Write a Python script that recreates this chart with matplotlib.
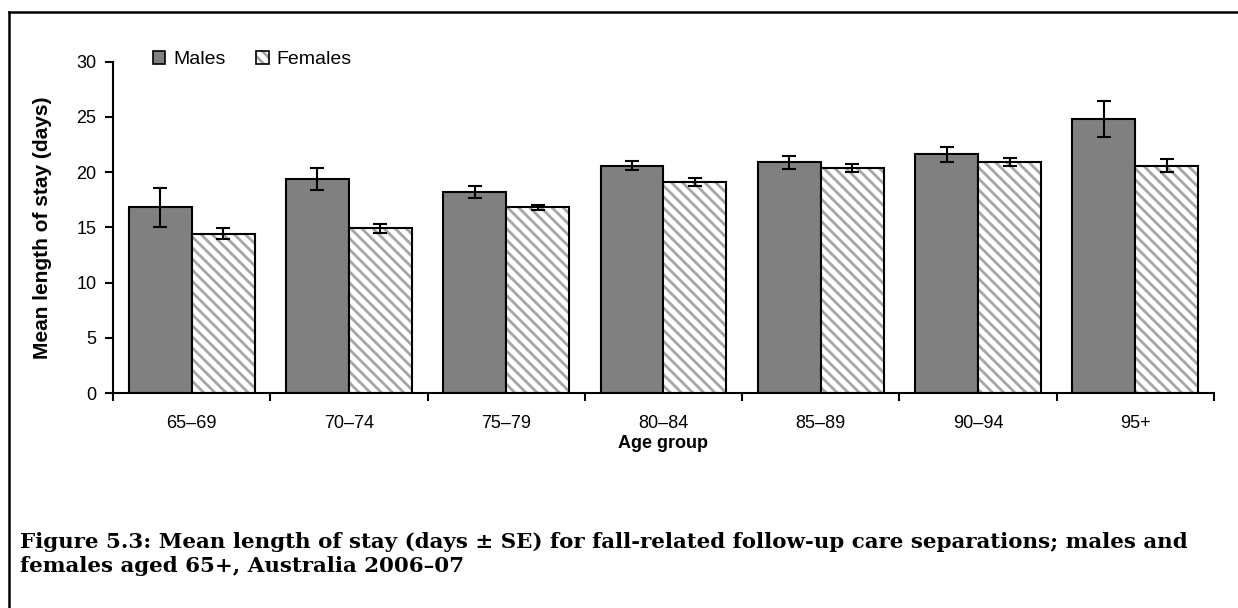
import numpy as np
import matplotlib
matplotlib.use("Agg")
import matplotlib.pyplot as plt
from matplotlib.lines import Line2D
from matplotlib.patches import Patch

# -------- DATA --------
age_groups = ["65–69", "70–74", "75–79", "80–84", "85–89", "90–94", "95+"]
males = [16.8, 19.4, 18.2, 20.6, 20.9, 21.6, 24.8]
males_se = [1.8, 1.0, 0.5, 0.4, 0.6, 0.7, 1.6]
females = [14.4, 14.9, 16.8, 19.1, 20.4, 20.9, 20.6]
females_se = [0.5, 0.4, 0.25, 0.35, 0.35, 0.35, 0.55]

caption = ("Figure 5.3: Mean length of stay (days ± SE) for fall-related follow-up care separations; males and\n"
           "females aged 65+, Australia 2006–07")

# -------- STYLE --------
plt.rcParams['font.family'] = ['Liberation Sans', 'DejaVu Sans']
plt.rcParams['hatch.linewidth'] = 2.0
male_col = "#808080"
hatch_col = "#a6a6a6"
stripes = "\\\\\\"

fig = plt.figure(figsize=(12.38, 6.08), dpi=100)
ax = fig.add_axes([113 / 1238, 1 - 393 / 608, (1214 - 113) / 1238, (393 - 61.7) / 608])

x = np.arange(len(age_groups))
w = 0.4

# males: solid grey
ax.bar(x - w / 2, males, w, color=male_col, edgecolor="black", linewidth=1.5, zorder=2)
# females: hatch layer then black outline on top
ax.bar(x + w / 2, females, w, color="white", edgecolor=hatch_col, hatch=stripes, linewidth=0, zorder=2)
ax.bar(x + w / 2, females, w, fill=False, edgecolor="black", linewidth=1.5, zorder=3)

err_kw = dict(fmt="none", ecolor="black", elinewidth=1.5, capsize=5, capthick=1.5, zorder=4)
ax.errorbar(x - w / 2, males, yerr=males_se, **err_kw)
ax.errorbar(x + w / 2, females, yerr=females_se, **err_kw)

# -------- AXES --------
ax.set_xlim(-0.5, len(age_groups) - 0.5)
ax.set_ylim(0, 30)
ax.set_yticks(range(0, 31, 5))
ax.set_xticks(x)
ax.set_xticklabels(age_groups)
ax.set_xticks(np.arange(-0.5, len(age_groups)), minor=True)
ax.tick_params(axis="x", which="major", length=0, pad=16, labelsize=13)
ax.tick_params(axis="x", which="minor", length=6, width=1.5, direction="out")
ax.tick_params(axis="y", length=6, width=1.5, direction="out", pad=6, labelsize=13)

for s in ["top", "right"]:
    ax.spines[s].set_visible(False)
for s in ["left", "bottom"]:
    ax.spines[s].set_linewidth(1.5)

ax.set_ylabel("Mean length of stay (days)", fontsize=15, fontweight="bold", va="center")
ax.yaxis.set_label_coords(-0.0636, 0.5)
ax.set_xlabel("Age group", fontsize=13, fontweight="bold", va="center")
ax.xaxis.set_label_coords(0.5, -0.151)

# -------- LEGEND --------
male_h = Patch(facecolor=male_col, edgecolor="black", linewidth=1.2)
fem_h = (Patch(facecolor="white", edgecolor=hatch_col, hatch=stripes, linewidth=0),
         Patch(fill=False, edgecolor="black", linewidth=1.2))
ax.legend([male_h, fem_h], ["Males", "Females"], loc="upper left",
          bbox_to_anchor=(0.02, 1.085), ncol=2, frameon=False, fontsize=14,
          handlelength=0.65, handleheight=0.65, handletextpad=0.4, columnspacing=1.6)

# -------- CAPTION + FRAME --------
fig.text(20 / 1238, 1 - 554 / 608, caption, fontsize=15.4, fontweight="bold",
         family=["DejaVu Serif"], va="center", ha="left", linespacing=1.2)

fig.add_artist(Line2D([9 / 1238, 1], [1 - 12 / 608, 1 - 12 / 608], color="black", lw=1.8))
fig.add_artist(Line2D([9 / 1238, 9 / 1238], [0, 1 - 12 / 608], color="black", lw=1.8))

fig.savefig("out.png", dpi=100)
